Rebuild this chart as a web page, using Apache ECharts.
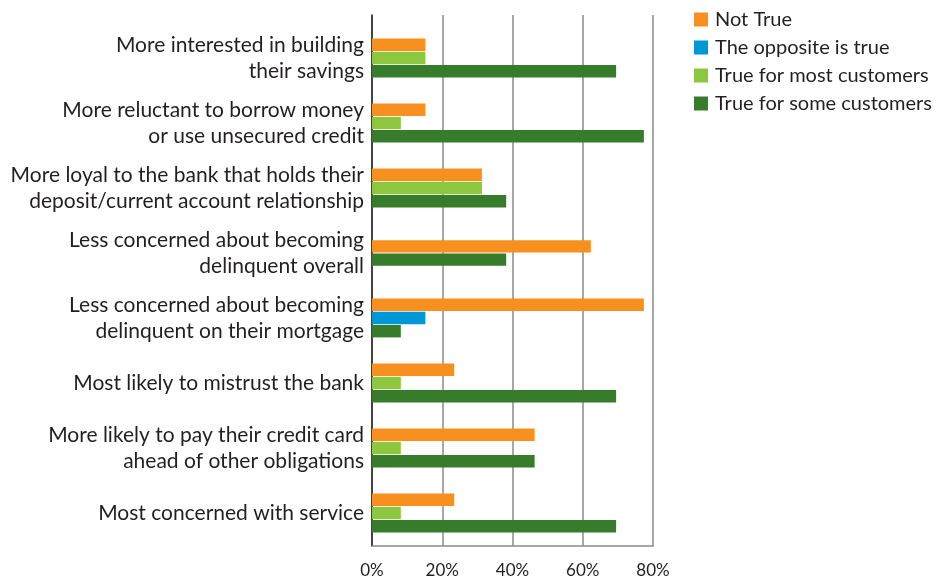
<!DOCTYPE html>
<html>
<head>
<meta charset="utf-8">
<script src="https://cdn.jsdelivr.net/npm/echarts@6/dist/echarts.min.js"></script>
<style>html,body{margin:0;padding:0;background:#fff}#c{width:937px;height:579px}</style>
</head>
<body>
<div id="c"></div>
<script>
const categories = [
  'More interested in building\ntheir savings',
  'More reluctant to borrow money\nor use unsecured credit',
  'More loyal to the bank that holds their\ndeposit/current account relationship',
  'Less concerned about becoming\ndelinquent overall',
  'Less concerned about becoming\ndelinquent on their mortgage',
  'Most likely to mistrust the bank',
  'More likely to pay their credit card\nahead of other obligations',
  'Most concerned with service'
];
const seriesNames = ['Not True', 'The opposite is true', 'True for most customers', 'True for some customers'];
const notTrue   = [15.2, 15.2, 31.3, 62.3, 77.4, 23.4, 46.3, 23.4];
const opposite  = [null, null, null, null, 15.2, null, null, null];
const trueMost  = [15.2, 8.2, 31.3, null, null, 8.2, 8.2, 8.2];
const trueSome  = [69.5, 77.4, 38.2, 38.2, 8.2, 69.5, 46.3, 69.5];
const xTicks = [0, 20, 40, 60, 80];

const colors = ['#F7901E', '#0097D6', '#8DC63F', '#367C2B'];
const allValues = [notTrue, opposite, trueMost, trueSome];
const FONT = 'Lato';
const TXT = '#231F20';

function makeRender(sIdx) {
  return function (params, api) {
    const v = api.value(0), c = api.value(1);
    const present = [];
    allValues.forEach((arr, j) => { if (arr[c] != null) present.push(j); });
    const k = present.indexOf(sIdx), n = present.length;
    const p0 = api.coord([0, c]);
    const p1 = api.coord([v, c]);
    const pitch = 13.2, h = 12.4;
    const cy = p0[1] + (k - (n - 1) / 2) * pitch;
    return {
      type: 'rect',
      shape: { x: p0[0], y: cy - h / 2, width: p1[0] - p0[0], height: h },
      style: { fill: colors[sIdx] }
    };
  };
}

const series = allValues.map((arr, s) => ({
  name: seriesNames[s],
  type: 'custom',
  xAxisIndex: 1,
  yAxisIndex: 1,
  encode: { x: 0, y: 1 },
  itemStyle: { color: colors[s] },
  renderItem: makeRender(s),
  data: arr.map((v, i) => v == null ? null : [v, i]).filter(d => d)
}));

const chart = echarts.init(document.getElementById('c'), null, { renderer: 'canvas' });
chart.setOption({
  animation: false,
  backgroundColor: '#fff',
  textStyle: { fontFamily: FONT },
  legend: {
    data: seriesNames,
    orient: 'vertical',
    left: 689,
    top: 4,
    icon: 'rect',
    itemWidth: 14,
    itemHeight: 14,
    itemGap: 7,
    textStyle: { fontFamily: FONT, fontSize: 20, color: TXT, lineHeight: 21, padding: [0, 0, 0, 2] }
  },
  grid: [
    { left: 372, width: 281, top: 15, height: 532 },
    { left: 372, width: 281, top: 25.5, height: 520 }
  ],
  xAxis: [
    {
      gridIndex: 0, type: 'value', min: xTicks[0], max: xTicks[xTicks.length - 1], interval: 20,
      axisLine: { show: true, onZero: false, lineStyle: { color: '#8a8a8a', width: 1.5 } },
      axisTick: { show: false },
      splitLine: { show: true, lineStyle: { color: '#8a8a8a', width: 1.5 } },
      axisLabel: { formatter: '{value}%', fontFamily: FONT, fontSize: 17, color: TXT, margin: 16 }
    },
    {
      gridIndex: 1, type: 'value', min: xTicks[0], max: xTicks[xTicks.length - 1], show: false
    }
  ],
  yAxis: [
    {
      gridIndex: 0, type: 'value', min: 0, max: 1,
      axisLine: { show: true, lineStyle: { color: '#222', width: 1.5 } },
      axisTick: { show: false }, axisLabel: { show: false }, splitLine: { show: false }
    },
    {
      gridIndex: 1, type: 'category', inverse: true, data: categories,
      axisLabel: { fontFamily: FONT, fontSize: 21, lineHeight: 26, color: TXT, margin: 8, align: 'right' },
      axisLine: { show: false }, axisTick: { show: false }, splitLine: { show: false }
    }
  ],
  series: series
});
</script>
</body>
</html>
